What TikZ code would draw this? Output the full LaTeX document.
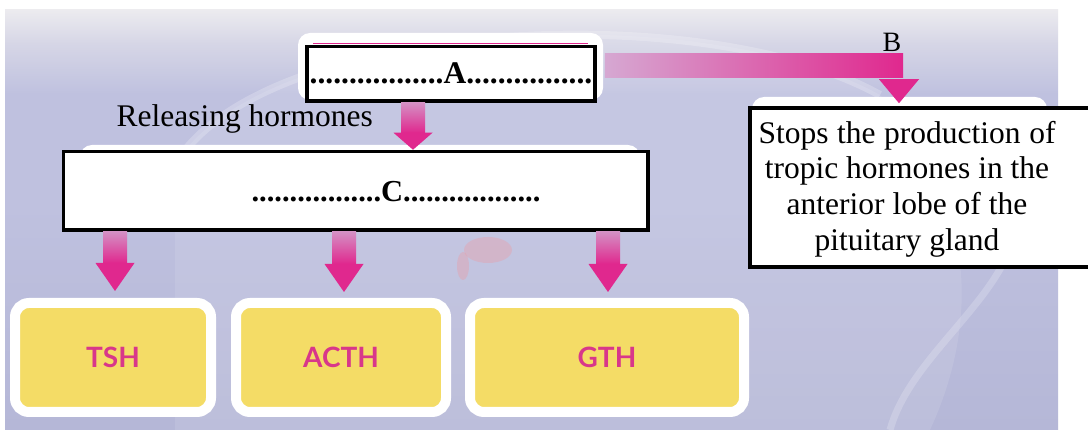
\documentclass[tikz,border=0pt]{standalone}
\usepackage{fontspec}
\setmainfont{Liberation Serif}
\newfontfamily\hormonefont{Lato}
\usetikzlibrary{calc}

\definecolor{slidetop}{HTML}{ECEBEF}
\definecolor{slidelight}{HTML}{D6D6E6}
\definecolor{slidemid}{HTML}{BFC1DF}
\definecolor{slidebot}{HTML}{B5B7D7}
\definecolor{arrowpink}{HTML}{E0288E}
\definecolor{arrowfade}{HTML}{D490C4}
\definecolor{barfade}{HTML}{D6A8D2}
\definecolor{boxyellow}{HTML}{F4DC66}
\definecolor{hormonepink}{HTML}{D8378A}
\pgfdeclareverticalshading{slideshade}{100bp}{color(0bp)=(slidebot); color(25bp)=(slidebot);
  color(52bp)=(slidemid); color(65bp)=(slidemid); color(71bp)=(slidelight);
  color(75bp)=(slidetop); color(100bp)=(slidetop)}

% fat pink arrow pointing down: start, tip, head length
\newcommand\downshaft[3]{%
  \shade[top color=arrowfade, bottom color=arrowpink]
    ($(#1)+(-12,0)$) rectangle ($(#2)+(12,-#3)$);
  \fill[arrowpink] ($(#2)+(-19.5,-#3)$) -- ($(#2)+(19.5,-#3)$) -- (#2) -- cycle;
}

\begin{document}
\begin{tikzpicture}
[x=1pt,y=-1pt,%
  every node/.style={font=\fontsize{31.5}{35.7}\selectfont},%
  answerbox/.style={draw=black,line width=3.5pt,fill=white,inner sep=0pt},%
  answertext/.style={font=\fontsize{30.5}{34}\selectfont\bfseries},%
  slideframe/.style={fill=white,rounded corners=12pt},%
  hormone/.style={fill=boxyellow,draw=white,line width=10pt,rounded corners=14pt,
    minimum height=109pt,text=hormonepink,
    font=\hormonefont\bfseries\fontsize{28}{28}\selectfont}]
\useasboundingbox (0,0) rectangle (1088,430);
\fill[white] (0,0) rectangle (1088,430);

% slide background
\shade[shading=slideshade] (5,10) rectangle (1058,430);
\begin{scope}
  \clip (5,10) rectangle (1058,430);
  \fill[white,opacity=.1] (175,165) .. controls (260,20) and (700,-5) .. (880,95)
    .. controls (960,180) and (990,300) .. (930,430) -- (175,430) -- cycle;
  \draw[white,opacity=.22,line width=8pt] (175,165) .. controls (260,20) and (700,-5) .. (880,95);
  \draw[white,opacity=.2,line width=7pt] (960,110) .. controls (1110,250) and (920,320) .. (890,430);
  \fill[pink!70!red,opacity=.25] (488,250) ellipse [x radius=24, y radius=13];
  \fill[pink!70!red,opacity=.25] (463,266) ellipse [x radius=6, y radius=14];
\end{scope}

% white boxes of the slide
\fill[slideframe] (298,33) rectangle (603,100);
\fill[slideframe] (80,145) rectangle (640,200);
\fill[slideframe] (752,97) rectangle (1047,190);
\draw[arrowpink,line width=1.5pt] (313,43.5) -- (588,43.5);

% boxes to fill in
\node[answerbox,minimum width=288,minimum height=54.5] (A) at (451,73.75)
  {\bfseries .................A................};
\node[anchor=base west] (release) at (113,127) {Releasing hormones};
\node[answerbox,minimum width=584.5,minimum height=78.5] (C) at (355.75,190.75) {};
\node[answertext] (Clabel) at (396,192) {.................C..................};
\node[answerbox,minimum width=343,minimum height=159] (Bbox) at (921.5,187.5) {};
\node[align=center] (Btext) at (907,189)
  {\makebox[297pt][s]{Stops the production of}\\tropic hormones in the\\anterior lobe of the\\pituitary gland};
\node[font=\fontsize{28}{28}\selectfont] (Blabel) at (892,42) {B};

% tropic hormones
\node[hormone,minimum width=196] (TSH) at (113,357.5) {TSH};
\node[hormone,minimum width=210] (ACTH) at (341,357.5) {ACTH};
\node[hormone,minimum width=274] (GTH) at (607,357.5) {GTH};

% arrows
\coordinate (Aout) at ($(A.south)+(-38,0)$);
\coordinate (Ctip) at (Aout |- C.north);
\downshaft{Aout}{Ctip}{17}
\coordinate (tshtip) at ($(TSH.north)+(2,-7)$);
\coordinate (acthtip) at ($(ACTH.north)+(3,-6)$);
\coordinate (gthtip) at ($(GTH.north)+(1,-6)$);
\downshaft{C.south -| tshtip}{tshtip}{28}
\downshaft{C.south -| acthtip}{acthtip}{28}
\downshaft{C.south -| gthtip}{gthtip}{28}
\coordinate (Bstart) at ($(A.east)+(8,-19.75)$);
\coordinate (Btip) at ($(Bbox.north)+(-22.5,-3)$);
\shade[left color=barfade, right color=arrowpink] (Bstart) rectangle ($(Btip)+(4,-26)$);
\fill[arrowpink] ($(Btip)+(-20,-24)$) -- ($(Btip)+(20,-24)$) -- (Btip) -- cycle;
\end{tikzpicture}
\end{document}
